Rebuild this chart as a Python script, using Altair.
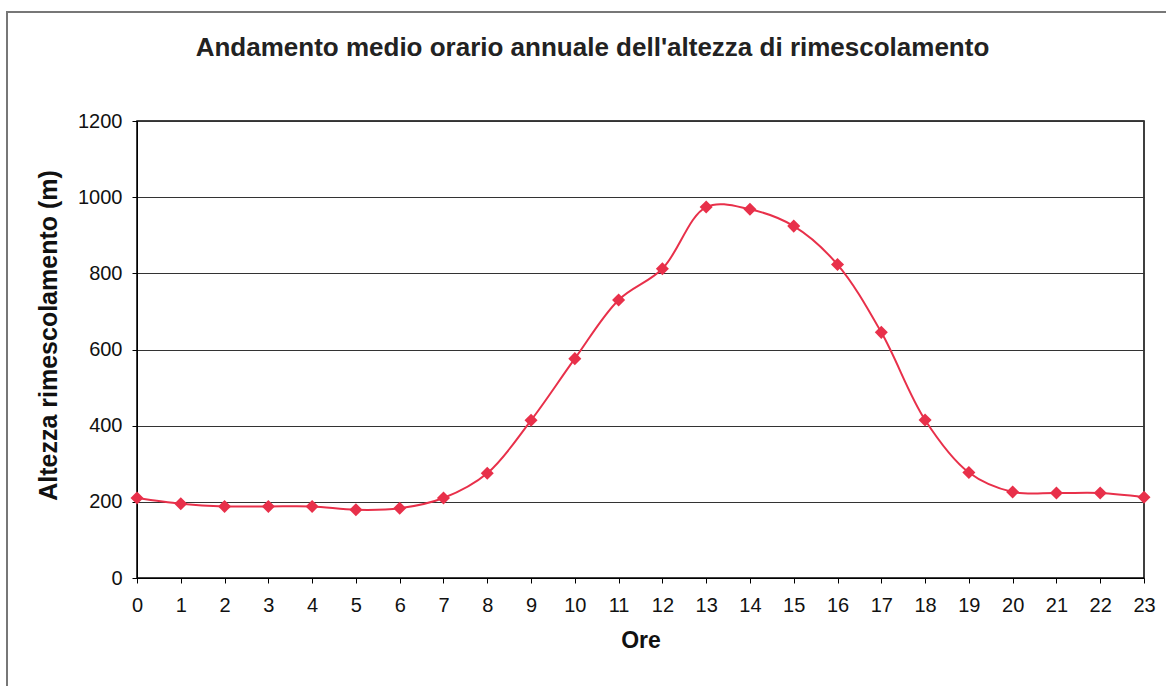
import altair as alt
import pandas as pd

ore = list(range(24))
altezza = [210, 195, 188, 188, 188, 179, 183, 210, 275, 414, 576, 730, 812, 974,
           968, 924, 823, 645, 415, 277, 226, 223, 223, 212]

df = pd.DataFrame({"Ore": ore, "Altezza": altezza})

W, H = 1007, 457
L, T = 137, 121
RED = "#e8304a"

x = alt.X("Ore:Q", scale=alt.Scale(domain=[0, 23], nice=False, zero=False),
          axis=alt.Axis(values=ore, title="Ore", grid=False, tickSize=5, format="d",
                        labelFlush=False, labelPadding=12, titlePadding=14, labelFontSize=20,
                        titleFontSize=23, titleFontWeight="bold",
                        domainColor="black", tickColor="black"))
y = alt.Y("Altezza:Q", scale=alt.Scale(domain=[0, 1200], nice=False),
          axis=alt.Axis(values=[0, 200, 400, 600, 800, 1000, 1200], format="d",
                        title="Altezza rimescolamento (m)", grid=True, labelFlush=False,
                        gridColor="#333333", gridWidth=1, tickSize=5,
                        labelPadding=10, titlePadding=16, labelFontSize=20,
                        titleFontSize=25, titleFontWeight="bold", titleY=214,
                        domainColor="black", tickColor="black"))

line = alt.Chart(df).mark_line(interpolate="catmull-rom", color=RED, strokeWidth=2).encode(x=x, y=y)
pts = alt.Chart(df).mark_point(shape="diamond", filled=True, color=RED, size=170, opacity=1).encode(x=x, y=y)

frame = alt.Chart(df).mark_rect(fill=None, stroke="#777777", strokeWidth=2, clip=False).encode(
    x=alt.value(7 - L), x2=alt.value(1180 - L), y=alt.value(12 - T), y2=alt.value(700 - T)
)

chart = alt.layer(frame, line, pts).properties(
    width=W, height=H,
    title=alt.Title("Andamento medio orario annuale dell'altezza di rimescolamento",
                    fontSize=26, fontWeight="bold", anchor="middle", frame="group", dx=-48, offset=-50,
                    color="#222222", font="Liberation Sans"),
    autosize=alt.AutoSizeParams(type="none"),
    padding={"left": L, "top": T, "right": 1166 - L - W, "bottom": 686 - T - H},
    background="white",
).configure_view(stroke="black", strokeWidth=1.5).configure_axis(
    labelFont="Liberation Sans", titleFont="Liberation Sans", labelColor="#111111", titleColor="#111111"
)

chart.save("out.html", embed_options={"renderer": "svg", "actions": False})
